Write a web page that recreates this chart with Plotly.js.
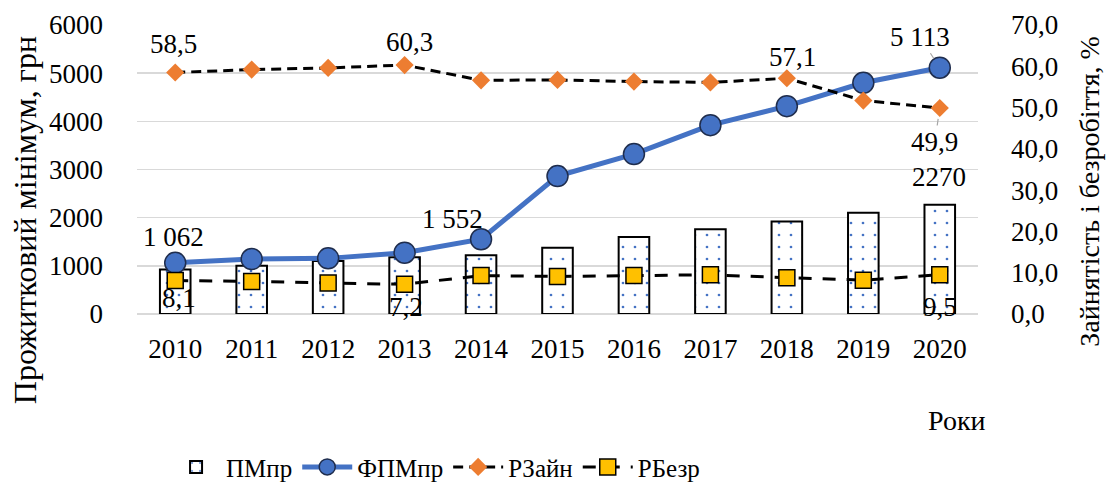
<!DOCTYPE html>
<html><head><meta charset="utf-8">
<script src="https://cdn.plot.ly/plotly-3.0.1.min.js"></script>
<style>body{margin:0;background:#fff}#chart{width:1112px;height:484px}</style>
</head><body><div id="chart"></div>
<script>
const years = ['2010','2011','2012','2013','2014','2015','2016','2017','2018','2019','2020'];
const pmpr = [922, 1004, 1102, 1176, 1218, 1378, 1600, 1762, 1921, 2102, 2270];
const fpmpr = [1062, 1141, 1155, 1272, 1552, 2863, 3320, 3921, 4315, 4800, 5113];
const rzain = [58.5, 59.2, 59.6, 60.3, 56.6, 56.7, 56.3, 56.1, 57.1, 51.7, 49.9];
const rbezr = [8.1, 7.9, 7.5, 7.2, 9.3, 9.1, 9.3, 9.5, 8.8, 8.2, 9.5];
const names = ['ПМпр', 'ФПМпр', 'РЗайн', 'РБезр'];
const yTitle = 'Прожитковий мінімум, грн';
const y2Title = 'Зайнятість і безробіття, %';
const xTitle = 'Роки';

const F = 'Liberation Serif, Times New Roman, serif';
const FS = 27;
const fmtInt = v => String(v).replace(/\B(?=(\d{3})+(?!\d))/g, ' ');
const fmtDec = v => v.toFixed(1).replace('.', ',');

const traces = [
  {type:'bar', name:names[0], x:years, y:pmpr, width:0.4,
   marker:{color:'white', line:{color:'black', width:2},
     pattern:{shape:'.', fgcolor:'#4472C4', bgcolor:'white', size:12, solidity:0.04}}},
  {type:'scatter', mode:'lines+markers', name:names[1], x:years, y:fpmpr,
   line:{color:'#4472C4', width:5},
   marker:{symbol:'circle', size:21, color:'#4472C4', line:{color:'#1f2d4d', width:1.5}}},
  {type:'scatter', mode:'lines+markers', name:names[2], x:years, y:rzain, yaxis:'y2',
   line:{color:'black', width:3, dash:'10px,6px'},
   marker:{symbol:'diamond', size:14, color:'#ED7D31'}},
  {type:'scatter', mode:'lines+markers', name:names[3], x:years, y:rbezr, yaxis:'y2',
   line:{color:'black', width:3, dash:'13px,11px'},
   marker:{symbol:'square', size:16, color:'#FFC000', line:{color:'black', width:1.5}}}
];

const ann = [];
// i = category index of the year
function lab(i, y, text, yref, dx, dy, arrow){
  const a = {x:i, y:y, xref:'x', yref:yref, text:text, font:{family:F, size:FS, color:'#000'}};
  if(arrow){ Object.assign(a, {showarrow:true, arrowhead:0, arrowwidth:1.2, arrowcolor:'#a6a6a6', ax:dx, ay:-dy, standoff:11}); }
  else { Object.assign(a, {showarrow:false, xshift:dx, yshift:dy}); }
  ann.push(a);
}
const L = years.length - 1;
lab(0, fpmpr[0], fmtInt(fpmpr[0]), 'y', -2, 26);
lab(4, fpmpr[4], fmtInt(fpmpr[4]), 'y', -29, 20);
lab(L, fpmpr[L], fmtInt(fpmpr[L]), 'y', -20, 31, true);
lab(0, rzain[0], fmtDec(rzain[0]), 'y2', -2, 28);
lab(3, rzain[3], fmtDec(rzain[3]), 'y2', 5, 23);
lab(8, rzain[8], fmtDec(rzain[8]), 'y2', 6, 21);
lab(L, rzain[L], fmtDec(rzain[L]), 'y2', -5, -34, true);
lab(L, pmpr[L], String(pmpr[L]), 'y', -1, 28);
lab(0, rbezr[0], fmtDec(rbezr[0]), 'y2', 4, -17);
lab(3, rbezr[3], fmtDec(rbezr[3]), 'y2', 1, -23);
lab(L, rbezr[L], fmtDec(rbezr[L]), 'y2', 0, -32);
// axis titles
ann.push({xref:'paper', yref:'paper', x:1.011, y:-0.37, xanchor:'right', yanchor:'middle', showarrow:false, text:xTitle,
  font:{family:F, size:28, color:'#000'}});
ann.push({xref:'paper', yref:'paper', x:-0.133, y:0.325, xanchor:'center', yanchor:'middle', textangle:-90,
  showarrow:false, text:yTitle, font:{family:F, size:32, color:'#000'}});
ann.push({xref:'paper', yref:'paper', x:1.133, y:0.426, xanchor:'center', yanchor:'middle', textangle:-90,
  showarrow:false, text:y2Title, font:{family:F, size:28, color:'#000'}});

const layout = {
  width:1112, height:484,
  margin:{l:137, r:134, t:25, b:170, autoexpand:false},
  paper_bgcolor:'white', plot_bgcolor:'white',
  separators:', ',
  font:{family:F, size:FS, color:'#000'},
  showlegend:true,
  legend:{orientation:'h', x:0.355, xanchor:'center', y:-0.53, yanchor:'middle',
    font:{family:F, size:25, color:'#000'}, itemwidth:50, tracegroupgap:0, traceorder:'normal'},
  xaxis:{type:'category', range:[-0.5, years.length - 0.5], autorange:false, automargin:false,
    showgrid:false, showline:false, zeroline:false, ticks:'',
    tickfont:{family:F, size:FS}, ticklabelstandoff:16},
  yaxis:{range:[0,6000], dtick:1000, showgrid:true, gridcolor:'#d9d9d9', gridwidth:1.5, automargin:false,
    zeroline:true, zerolinecolor:'#d9d9d9', zerolinewidth:1.5, showline:false, ticks:'',
    tickfont:{family:F, size:FS}, ticklabelstandoff:33},
  yaxis2:{range:[0,70], dtick:10, overlaying:'y', side:'right', showgrid:false, zeroline:false, automargin:false,
    showline:false, ticks:'', tickformat:'.1f', tickfont:{family:F, size:FS}, ticklabelstandoff:32},
  annotations: ann
};
Plotly.newPlot('chart', traces, layout, {displayModeBar:false, staticPlot:true});
</script></body></html>
